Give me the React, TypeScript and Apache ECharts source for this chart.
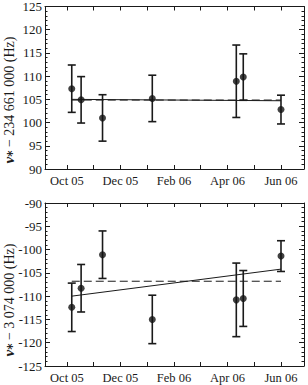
import React, { useEffect, useRef } from "react";
import * as echarts from "echarts";

// x positions: months after 1 Oct 2005
const obsMonths = [0.18, 0.53, 1.33, 3.19, 6.33, 6.59, 8.0];
const topValues = [107.3, 104.9, 101.0, 105.2, 108.9, 109.8, 102.8];
const topErrors = [5.1, 5.0, 5.0, 5.0, 7.8, 5.0, 3.1];
const bottomValues = [-112.4, -108.3, -101.1, -115.0, -110.8, -110.5, -101.4];
const bottomErrors = [5.2, 5.1, 5.1, 5.2, 7.9, 6.0, 3.3];

const topFitSolid = [105.0, 104.7];
const topFitDashed = [104.85, 104.85];
const bottomFitSolid = [-110.0, -104.2];
const bottomFitDashed = [-106.8, -106.8];

const tickMonths = [0, 1, 2, 3, 4, 5, 6, 7, 8];
const labelMonths = [0, 2, 4, 6, 8];
const tickLabels = ["Oct 05", "Dec 05", "Feb 06", "Apr 06", "Jun 06"];

const topTitle = "{nu|ν}{s|⁎} − 234 661 000 (Hz)";
const bottomTitle = "{nu|ν}{s|⁎} − 3 074 000 (Hz)";

const X_MIN = -0.82;
const X_MAX = 8.86;
const FONT = '"Liberation Serif", "DejaVu Serif", serif';
const INK = "#1a1a1a";

function xAxes(gridIndex: number) {
  const common = {
    type: "value",
    gridIndex,
    min: X_MIN,
    max: X_MAX,
    splitLine: { show: false },
    axisLine: { show: true, onZero: false, lineStyle: { color: INK, width: 1 } },
    axisTick: {
      show: true,
      inside: true,
      length: 4,
      customValues: tickMonths,
      lineStyle: { color: INK, width: 1 },
    },
  };
  return [
    {
      ...common,
      position: "bottom",
      axisLabel: {
        show: true,
        customValues: labelMonths,
        formatter: (v: number) => {
          const i = labelMonths.findIndex((m) => Math.abs(m - v) < 1e-6);
          return i >= 0 ? tickLabels[i] : "";
        },
        margin: 5,
        fontFamily: FONT,
        fontSize: 12.5,
        color: INK,
      },
    },
    { ...common, position: "top", axisLabel: { show: false } },
  ];
}

function yAxes(gridIndex: number, min: number, max: number) {
  const common = {
    type: "value",
    gridIndex,
    min,
    max,
    interval: 5,
    splitLine: { show: false },
    axisLine: { show: true, onZero: false, lineStyle: { color: INK, width: 1 } },
    axisTick: { show: true, inside: true, length: 5, lineStyle: { color: INK, width: 1 } },
    minorTick: { show: true, splitNumber: 5, length: 2.5, lineStyle: { color: INK, width: 1 } },
  };
  return [
    {
      ...common,
      position: "left",
      axisLabel: { show: true, margin: 3, fontFamily: FONT, fontSize: 13, color: INK },
    },
    { ...common, position: "right", axisLabel: { show: false } },
  ];
}

function errorSeries(values: number[], errors: number[], axisIdx: number) {
  return {
    type: "custom",
    xAxisIndex: axisIdx,
    yAxisIndex: axisIdx,
    encode: { x: 0, y: 1 },
    data: obsMonths.map((m, i) => [m, values[i], errors[i]]),
    renderItem: (params: any, api: any) => {
      const x = api.value(0);
      const y = api.value(1);
      const e = api.value(2);
      const top = api.coord([x, y + e]);
      const bot = api.coord([x, y - e]);
      const hw = 4;
      const style = { stroke: INK, lineWidth: 1.6 };
      return {
        type: "group",
        children: [
          { type: "line", shape: { x1: top[0], y1: top[1], x2: bot[0], y2: bot[1] }, style },
          { type: "line", shape: { x1: top[0] - hw, y1: top[1], x2: top[0] + hw, y2: top[1] }, style },
          { type: "line", shape: { x1: bot[0] - hw, y1: bot[1], x2: bot[0] + hw, y2: bot[1] }, style },
        ],
      };
    },
    z: 3,
  };
}

function pointSeries(values: number[], axisIdx: number) {
  return {
    type: "scatter",
    xAxisIndex: axisIdx,
    yAxisIndex: axisIdx,
    symbol: "circle",
    symbolSize: 7,
    itemStyle: { color: "#111" },
    data: obsMonths.map((m, i) => [m, values[i]]),
    z: 4,
  };
}

function fitSeries(vals: number[], axisIdx: number, dashed: boolean) {
  const first = obsMonths[0];
  const last = obsMonths[obsMonths.length - 1];
  return {
    type: "line",
    xAxisIndex: axisIdx,
    yAxisIndex: axisIdx,
    showSymbol: false,
    symbol: "none",
    lineStyle: { color: INK, width: 1, type: dashed ? [8, 4] : "solid" },
    data: [
      [first, vals[0]],
      [last, vals[1]],
    ],
    z: 2,
  };
}

export default function App() {
  const ref = useRef<HTMLDivElement>(null);
  useEffect(() => {
    if (!ref.current) return;
    const chart = echarts.init(ref.current, undefined, { renderer: "svg" });
    const titleRich = {
      nu: { fontStyle: "italic", fontWeight: "bold", fontSize: 15, fontFamily: FONT, fill: INK },
      s: { fontSize: 12, fontWeight: "bold", fontFamily: FONT, fill: INK },
    };
    chart.setOption({
      animation: false,
      backgroundColor: "#ffffff",
      grid: [
        { left: 45, top: 4, width: 259, height: 165 },
        { left: 45, top: 203, width: 259, height: 163 },
      ],
      xAxis: [...xAxes(0), ...xAxes(1)],
      yAxis: [...yAxes(0, 90, 125), ...yAxes(1, -125, -90)],
      graphic: [
        {
          type: "text",
          x: 9,
          y: 100,
          rotation: Math.PI / 2,
          style: {
            text: topTitle,
            rich: titleRich,
            fontSize: 14,
            fontFamily: FONT,
            fill: INK,
            align: "center",
            verticalAlign: "middle",
          },
        },
        {
          type: "text",
          x: 9,
          y: 300,
          rotation: Math.PI / 2,
          style: {
            text: bottomTitle,
            rich: titleRich,
            fontSize: 14,
            fontFamily: FONT,
            fill: INK,
            align: "center",
            verticalAlign: "middle",
          },
        },
      ],
      series: [
        fitSeries(topFitSolid, 0, false),
        fitSeries(topFitDashed, 0, true),
        errorSeries(topValues, topErrors, 0),
        pointSeries(topValues, 0),
        fitSeries(bottomFitSolid, 2, false),
        fitSeries(bottomFitDashed, 2, true),
        errorSeries(bottomValues, bottomErrors, 2),
        pointSeries(bottomValues, 2),
      ],
    });
    return () => chart.dispose();
  }, []);
  return (
    <div
      ref={ref}
      style={{ position: "absolute", left: 0, top: 0, width: 308, height: 385 }}
    />
  );
}
